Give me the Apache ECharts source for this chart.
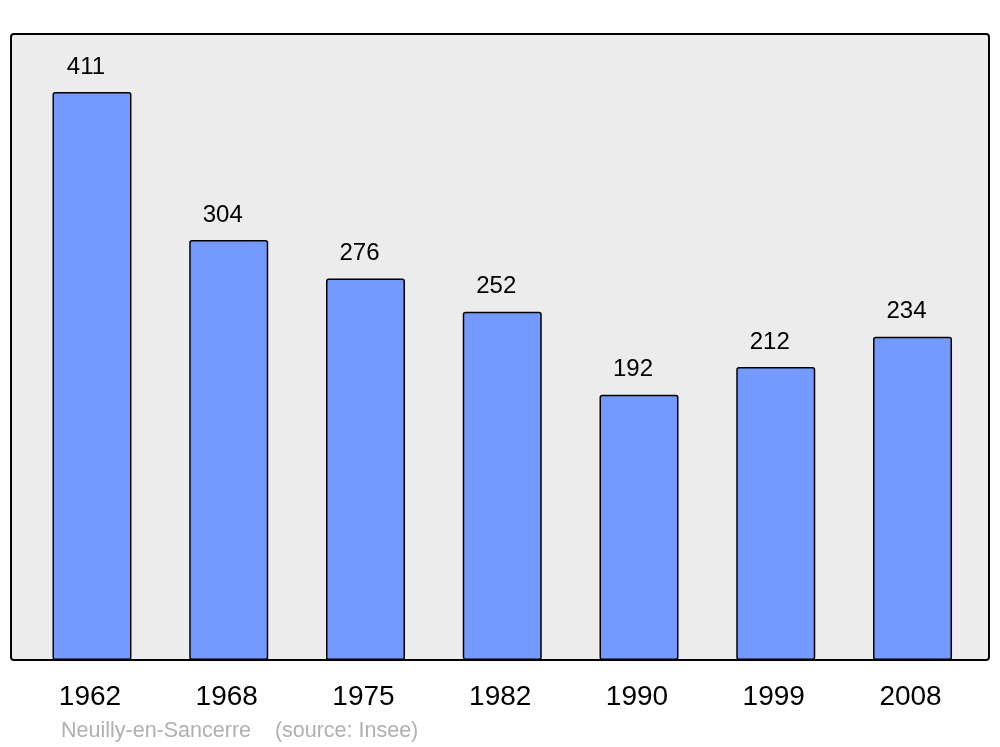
<!DOCTYPE html>
<html>
<head>
<meta charset="utf-8">
<script src="https://cdn.jsdelivr.net/npm/echarts@6/dist/echarts.min.js"></script>
<style>html,body{margin:0;padding:0;background:#fff}#c{width:1000px;height:747px}</style>
</head>
<body>
<div id="c"></div>
<script>
const years = ['1962', '1968', '1975', '1982', '1990', '1999', '2008'];
const population = [411, 304, 276, 252, 192, 212, 234];
const footer = 'Neuilly-en-Sancerre    (source: Insee)';

const chart = echarts.init(document.getElementById('c'), null, {renderer: 'canvas'});
chart.setOption({
  animation: false,
  backgroundColor: '#ffffff',
  title: {
    text: footer,
    left: 61,
    top: 720,
    padding: 0,
    textStyle: {fontFamily: 'Liberation Sans, Arial, sans-serif', fontSize: 21.5, fontWeight: 'normal', color: '#b0b0b0'}
  },
  graphic: [{
    type: 'rect',
    z: -10,
    silent: true,
    shape: {x: 11, y: 34, width: 978, height: 626, r: 3},
    style: {fill: '#ececec', stroke: '#000000', lineWidth: 2}
  }],
  grid: {left: 23.6, width: 957.3, top: 34, bottom: 87},
  xAxis: {
    type: 'category',
    data: years,
    axisLine: {show: false},
    axisTick: {show: false},
    axisLabel: {fontFamily: 'Liberation Sans, Arial, sans-serif', fontSize: 28, color: '#000', margin: 23, padding: [0, 4, 0, 0]}
  },
  yAxis: {
    type: 'value',
    min: 0,
    max: 453,
    show: false,
    splitLine: {show: false}
  },
  series: [{
    type: 'bar',
    data: population,
    barWidth: 79,
    itemStyle: {color: '#7499ff', borderColor: '#000', borderWidth: 1.5, borderRadius: 2},
    label: {
      show: true,
      position: 'top',
      distance: 13,
      offset: [-6, 0],
      fontFamily: 'Liberation Sans, Arial, sans-serif',
      fontSize: 24,
      color: '#000'
    }
  }]
});
</script>
</body>
</html>
